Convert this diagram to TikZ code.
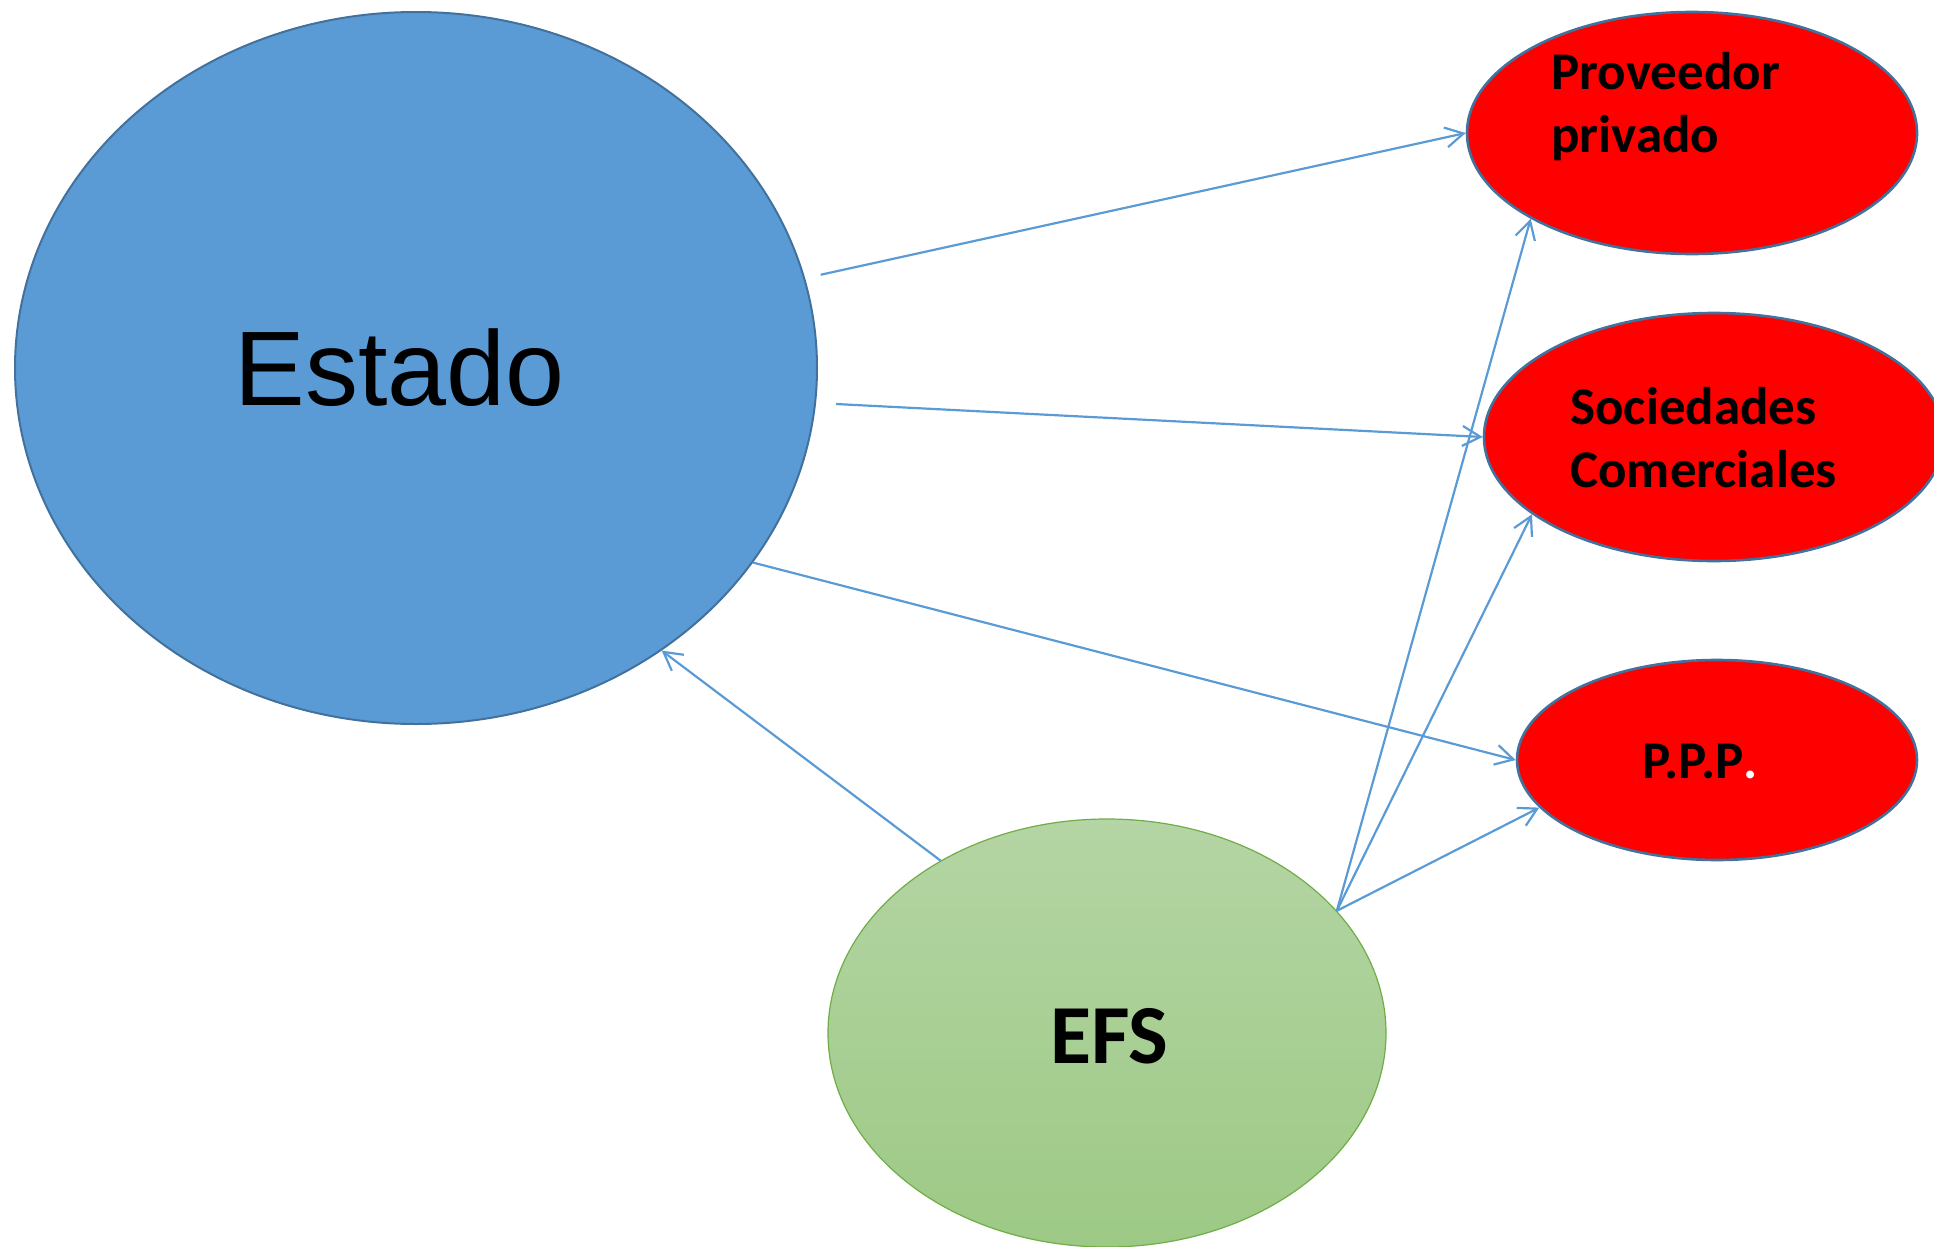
\documentclass[tikz,border=0pt]{standalone}
\usepackage{fontspec}
\setmainfont{Liberation Sans}
\newfontfamily\calibrifont{Carlito}
\usetikzlibrary{arrows.meta,shapes.geometric}
\definecolor{estadoblue}{HTML}{5B9BD5}
\definecolor{rimblue}{HTML}{41719C}
\definecolor{efstop}{HTML}{B4D5A4}
\definecolor{efsbottom}{HTML}{9DC985}
\definecolor{efsrim}{HTML}{70AD47}

\begin{document}
\begin{tikzpicture}[x=0.5pt,y=-0.5pt,
    blob/.style={ellipse,inner sep=0pt,draw=rimblue,line width=1.3pt,fill=red},
    tag/.style={inner sep=0pt,anchor=base west,align=left,
      font=\calibrifont\bfseries\fontsize{26.5}{31.5}\selectfont},
    link/.style={estadoblue,line width=1.1pt,-{Straight Barb[length=9pt,width=10pt]}}]
  \useasboundingbox (0,0) rectangle (1934,1247);
  \node[ellipse,inner sep=0pt,draw=rimblue,line width=1pt,fill=estadoblue,
    minimum width=401pt,minimum height=356pt] (estado) at (416,368) {};
  \node[blob,minimum width=225pt,minimum height=121pt] (prov) at (1692,133) {};
  \node[blob,minimum width=230pt,minimum height=124pt] (soc) at (1714,437) {};
  \node[blob,minimum width=200pt,minimum height=100pt] (ppp) at (1717,760) {};
  \node[ellipse,inner sep=0pt,draw=efsrim,line width=0.6pt,top color=efstop,bottom color=efsbottom,
    minimum width=279pt,minimum height=214pt] (efs) at (1107,1033) {};

  \node[inner sep=0pt,anchor=base west,font=\fontsize{53}{60}\selectfont] (estadotxt) at (234,405) {Estado};
  \node[tag] (provtxt) at (1551,153) {Proveedor\\privado};
  \node[tag] (soctxt) at (1570,487) {Sociedades\\Comerciales};
  \node[tag] (ppptxt) at (1642,778) {P.P.P\textcolor{white}{.}};
  \node[tag,font=\calibrifont\bfseries\fontsize{42}{50}\selectfont] (efstxt) at (1050,1063) {EFS};

  \draw[link,shorten <=8pt] (estado.13) -- (prov.west);
  \draw[link,shorten <=10pt] (estado.-5) -- (soc.west);
  \draw[link] (estado.-30) -- (ppp.west);
  \draw[link] (efs.134) -- (estado.-49);
  \coordinate (efsout) at (efs.28);
  \draw[link] (efsout) -- (prov.208);
  \draw[link] (efsout) -- (soc.203);
  \draw[link] (efsout) -- (ppp.195);
\end{tikzpicture}
\end{document}
